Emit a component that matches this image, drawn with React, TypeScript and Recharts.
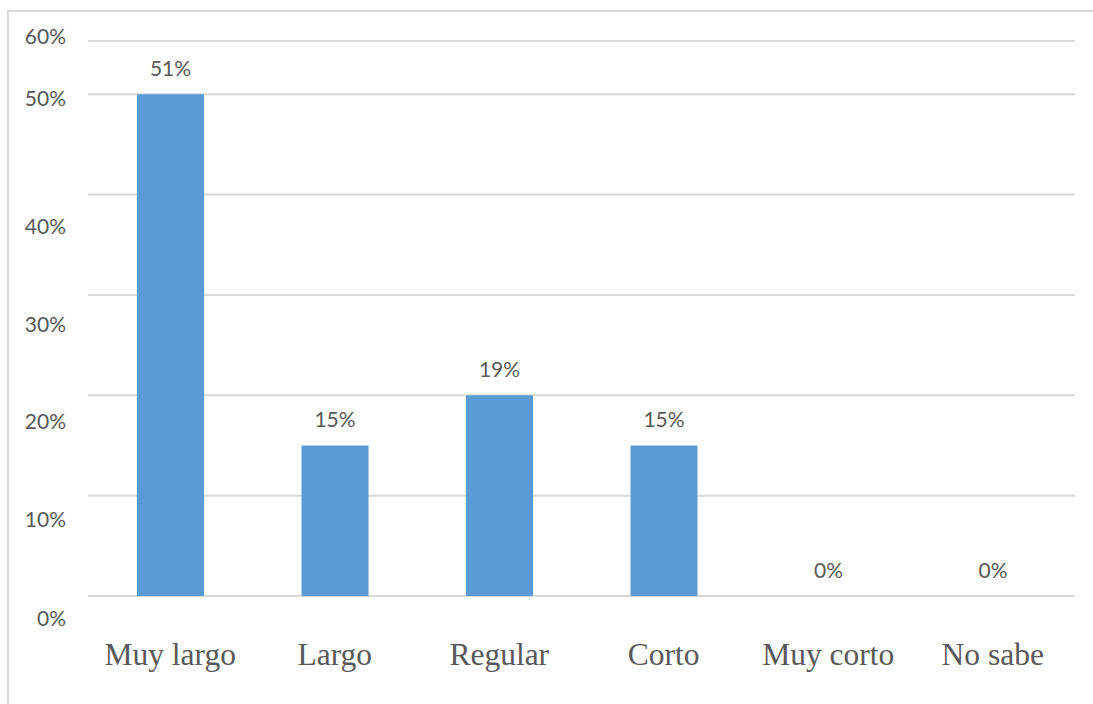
import React from 'react';
import { BarChart, Bar, XAxis, YAxis, CartesianGrid, LabelList } from 'recharts';

const categories = ['Muy largo', 'Largo', 'Regular', 'Corto', 'Muy corto', 'No sabe'];
const values = [50, 15, 20, 15, 0, 0];
const valueLabels = ['51%', '15%', '19%', '15%', '0%', '0%'];
const yTicks = [0, 10, 20, 30, 40, 50, 55.3];
const yTickLabels = ['0%', '10%', '20%', '30%', '40%', '50%', '60%'];
const yLabelShift = [23, 24, 26, 30, 32, 4, -4];

const data = categories.map((c, i) => ({ name: c, value: values[i], label: valueLabels[i] }));

const TEXT = '#595959';
const SANS = 'Lato, "Open Sans", sans-serif';

const YTick = (props: any) => {
  const { x, y, payload } = props;
  const i = yTicks.indexOf(payload.value);
  return (
    <text x={x} y={y + (yLabelShift[i] || 0)} dy="0.35em" textAnchor="end" fill={TEXT} fontFamily={SANS} fontSize={21}>
      {yTickLabels[i]}
    </text>
  );
};

const XTick = (props: any) => {
  const { x, y, payload } = props;
  return (
    <text x={x} y={y} dy={61} textAnchor="middle" fill={TEXT} fontFamily='"Liberation Serif", serif' fontSize={31.5}>
      {payload.value}
    </text>
  );
};

export default function App() {
  return (
    <div style={{ position: 'fixed', left: 0, top: 0, width: 1093, height: 704, overflow: 'hidden', background: '#fff' }}>
      <div style={{ position: 'absolute', left: 7, top: 10, width: 1200, height: 800, border: '2px solid #d9d9d9' }} />
      <div style={{ position: 'absolute', left: 0, top: 0 }}>
        <BarChart width={1093} height={704} data={data} margin={{ top: 41, right: 18, left: 8, bottom: 48 }}>
          <CartesianGrid vertical={false} stroke="#d9d9d9" strokeWidth={2} />
          <XAxis dataKey="name" axisLine={false} tickLine={false} height={60} tick={<XTick />} interval={0} />
          <YAxis
            width={80}
            domain={[0, 55.3]}
            ticks={yTicks}
            axisLine={false}
            tickLine={false}
            tickMargin={16}
            tick={<YTick />}
            interval={0}
          />
          <Bar dataKey="value" fill="#5B9BD5" barSize={67} minPointSize={0.01} isAnimationActive={false}>
            <LabelList dataKey="label" position="top" offset={18} fill={TEXT} fontFamily={SANS} fontSize={21} />
          </Bar>
        </BarChart>
      </div>
    </div>
  );
}
